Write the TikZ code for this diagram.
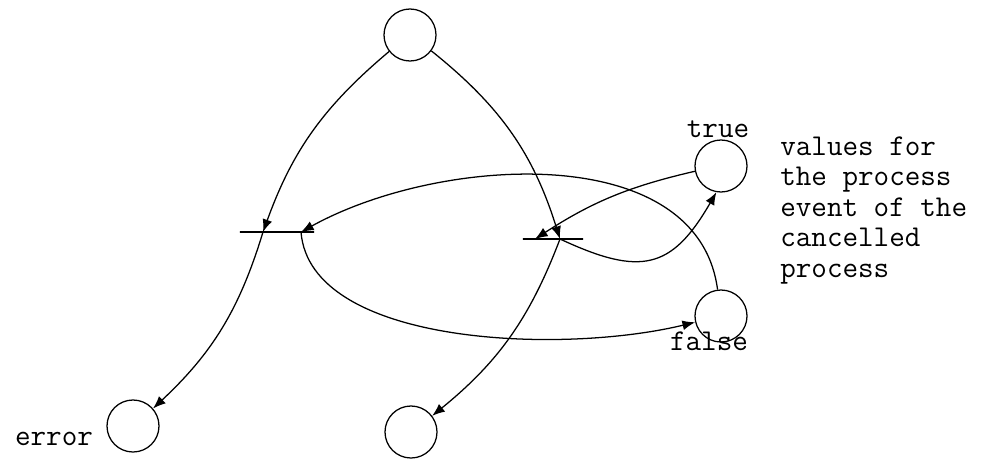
\documentclass[tikz,border=0pt]{standalone}
\usepackage{fontspec}
\usetikzlibrary{arrows.meta,calc}
\tikzset{
  place/.style={draw,circle,minimum size=1.3cm,inner sep=0pt,line width=0.9pt},
  trans/.style={draw,rectangle,minimum height=0pt,inner sep=0pt,line width=1.1pt},
  arc/.style={line width=0.9pt,-{Latex[length=9pt,width=7pt]}},
  lbl/.style={font=\ttfamily\fontsize{21.5}{21.6}\selectfont,inner sep=0pt}
}
\begin{document}
\begin{tikzpicture}[x=0.025cm,y=-0.025cm]
            \useasboundingbox (0,0) rectangle (992,460);
            \node[place] (start) at (410,35) {};
            \node[place] (true) at (721,166) {};
            \node[place] (false) at (721,316) {};
            \node[place] (error) at (133,426) {};
            \node[place] (done) at (411,432) {};
            \node[trans,minimum width=1.85cm] (cancel) at (277,232) {};
            \node[trans,minimum width=1.5cm] (finish) at (553,239) {};
            \node[lbl,anchor=base] (truelbl) at (718,137) {true};
            \node[lbl,anchor=base] (falselbl) at (709,350) {false};
            \node[lbl,anchor=base] (errorlbl) at (54,445) {error};
            \node[lbl,anchor=base west,align=left] (note) at (780,277) {values for\\the process\\event of the\\cancelled\\process};
            \draw[arc] (start) to[bend right=15] ($(cancel)+(-14,0)$);
            \draw[arc] ($(cancel)+(-14,0)$) to[bend left=15] (error);
            \draw[arc] (start) to[bend left=17] ($(finish)+(7,0)$);
            \draw[arc] ($(finish)+(7,0)$) to[bend left=15] (done);
            \draw[arc] (true) to[bend right=10] ($(finish)+(-18,0)$);
            \draw[arc] ($(finish)+(7,0)$) to[out=-25,in=-120,looseness=1.4] (true.-100);
            \draw[arc] (false) .. controls (698,140) and (440,155) .. ($(cancel)+(24,0)$);
            \draw[arc] ($(cancel)+(24,0)$) .. controls (310,345) and (560,355) .. (false);
        \end{tikzpicture}
\end{document}
